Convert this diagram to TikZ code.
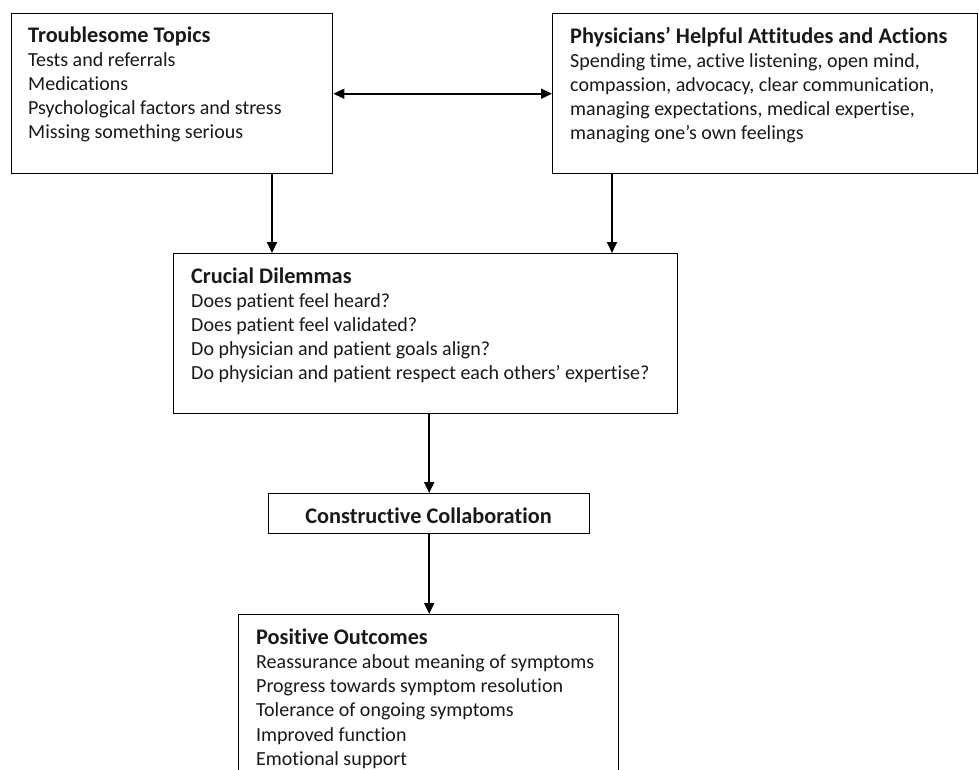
\documentclass[tikz,border=0pt]{standalone}
\usepackage{fontspec}
\setmainfont[Ligatures=NoCommon]{Carlito}
\usetikzlibrary{arrows.meta}
\newcommand\hd[1]{\hbox{\fontsize{22.3}{24}\selectfont\bfseries #1}}
\begin{document}
\begin{tikzpicture}[x=1pt,y=-1pt,
  box/.style={draw=black, line width=1.4pt, fill=white, inner sep=0pt, anchor=north west},
  body/.style={anchor=base west, inner sep=0pt, text=black!90, font=\fontsize{20}{24}\selectfont},
  tip/.tip={Triangle[length=11pt,width=10pt]},
  conn/.style={line width=1.8pt, -tip},
  dconn/.style={line width=1.8pt, tip-tip}]
\useasboundingbox (0,0) rectangle (979,769);
\clip (0,0) rectangle (979,769);
% boxes
\node[box, minimum width=321pt, minimum height=160pt] (tt) at (11,13) {};
\node[box, minimum width=425pt, minimum height=160pt] (ph) at (552,13) {};
\node[box, minimum width=504pt, minimum height=160pt] (cd) at (173,253) {};
\node[box, minimum width=321pt, minimum height=40pt] (cc) at (268,493) {};
\node[box, minimum width=380pt, minimum height=200pt] (po) at (238,614) {};
% texts
\node[body] (ttx) at (28,42.7) {\vtop{%
  \hd{Troublesome Topics}%
  \hbox{Tests and referrals}%
  \hbox{Medications}%
  \hbox{Psychological factors and stress}%
  \hbox{Missing something serious}}};
\node[body] (phx) at (570,43.3) {\vtop{%
  \hd{Physicians’ Helpful Attitudes and Actions}%
  \hbox{Spending time, active listening, open mind,}%
  \hbox{compassion, advocacy, clear communication,}%
  \hbox{managing expectations, medical expertise,}%
  \hbox{managing one’s own feelings}}};
\node[body] (cdx) at (191,283.3) {\vtop{%
  \hd{Crucial Dilemmas}%
  \hbox{Does patient feel heard?}%
  \hbox{Does patient feel validated?}%
  \hbox{Do physician and patient goals align?}%
  \hbox{Do physician and patient respect each others’ expertise?}}};
\node[body, anchor=base] (ccx) at (428.5,523.3) {\hd{Constructive Collaboration}};
\node[body, font=\fontsize{20}{24.3}\selectfont] (pox) at (256,644) {\vtop{%
  \hd{Positive Outcomes}%
  \hbox{Reassurance about meaning of symptoms}%
  \hbox{Progress towards symptom resolution}%
  \hbox{Tolerance of ongoing symptoms}%
  \hbox{Improved function}%
  \hbox{Emotional support}}};
% connectors
\coordinate (a1) at (272,0);
\coordinate (a2) at (612,0);
\draw[dconn] (tt.east) -- (ph.west);
\draw[conn] (tt.south -| a1) -- (cd.north -| a1);
\draw[conn] (ph.south -| a2) -- (cd.north -| a2);
\draw[conn] (cd.south -| cc.north) -- (cc.north);
\draw[conn] (cc.south) -- (po.north -| cc.south);
\end{tikzpicture}
\end{document}
